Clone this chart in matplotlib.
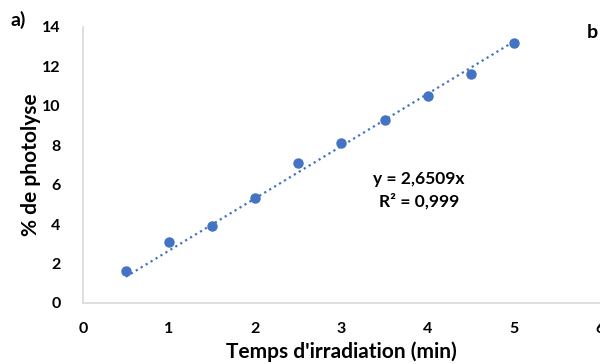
import matplotlib
matplotlib.use('Agg')
import matplotlib.pyplot as plt
import numpy as np

matplotlib.rcParams['font.family'] = ['Lato', 'DejaVu Sans']
matplotlib.rcParams['font.weight'] = 'bold'

temps = [0.5, 1.0, 1.5, 2.0, 2.5, 3.0, 3.5, 4.0, 4.5, 5.0]
photolyse = [1.6, 3.1, 3.9, 5.3, 7.1, 8.1, 9.3, 10.5, 11.6, 13.2]
pente = 2.6509
x_ticks = [0, 1, 2, 3, 4, 5, 6]
y_ticks = [0, 2, 4, 6, 8, 10, 12, 14]

blue = '#4472C4'
grey = '#D9D9D9'

fig = plt.figure(figsize=(6, 3.64), dpi=100)
ax = fig.add_axes([0.138, 0.168, 0.862, 0.758])

# trendline y = a*x over the data range
xt = np.array([temps[0], temps[-1]])
ax.plot(xt, pente * xt, linestyle=(0, (1, 1.6)), color=blue, lw=1.6, zorder=2)
ax.plot(temps, photolyse, 'o', color=blue, ms=6.5, zorder=3, clip_on=False)

ax.set_xlim(0, 6)
ax.set_ylim(0, 14)
ax.set_xticks(x_ticks)
ax.set_yticks(y_ticks)
ax.tick_params(length=0, labelsize=11.5, pad=14)
ax.tick_params(axis='y', pad=16)
for s in ['top', 'right']:
    ax.spines[s].set_visible(False)
for s in ['left', 'bottom']:
    ax.spines[s].set_color(grey)
    ax.spines[s].set_linewidth(1.2)

ax.set_xlabel("Temps d'irradiation (min)", fontsize=15, fontweight='bold', labelpad=4)
ax.set_ylabel('% de photolyse', fontsize=15, fontweight='bold')
ax.yaxis.set_label_coords(-0.08, 0.5)

ax.text(3.9, 5.7, 'y = 2,6509x\nR² = 0,999', ha='center', va='center',
        fontsize=12.5, fontweight='bold', linespacing=1.45)

fig.text(0.017, 0.945, 'a)', fontsize=14, fontweight='bold', ha='left', va='center')
fig.text(0.978, 0.91, 'b', fontsize=14, fontweight='bold', ha='left', va='center')

fig.savefig('out.png', dpi=100)
